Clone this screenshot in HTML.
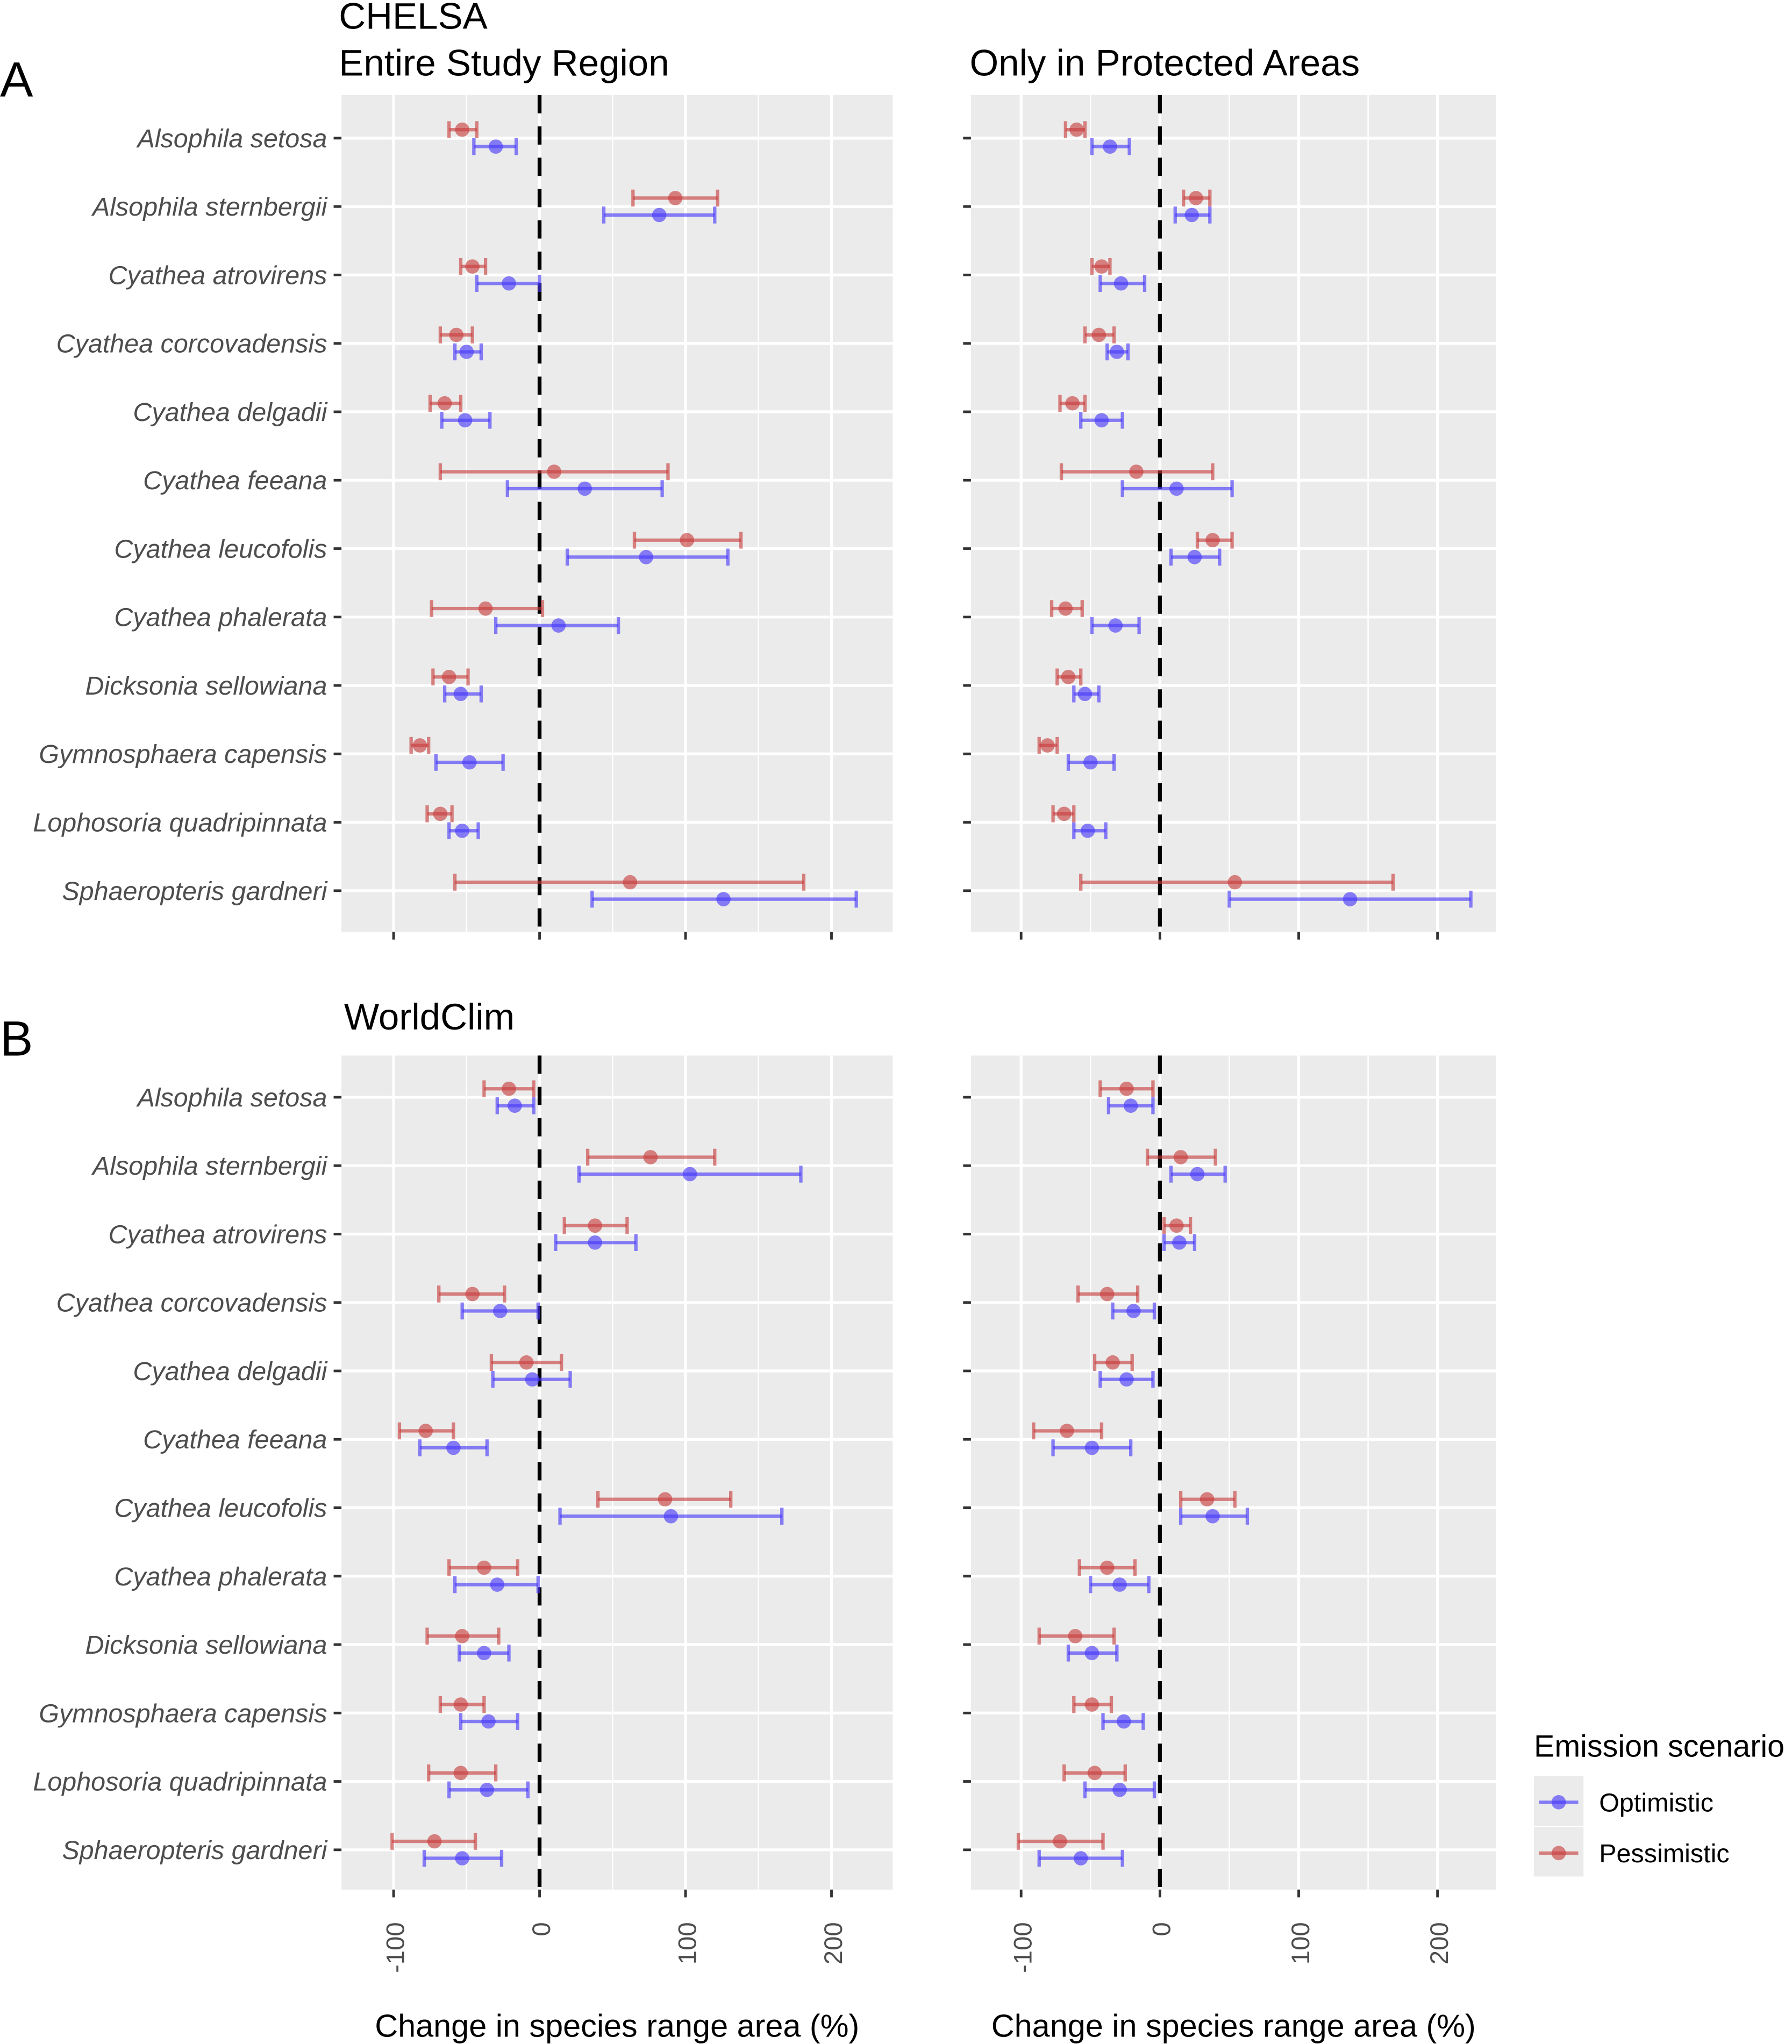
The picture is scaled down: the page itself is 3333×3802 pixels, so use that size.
<!DOCTYPE html>
<html><head><meta charset="utf-8">
<style>
html,body{margin:0;padding:0;background:#fff;}
svg{display:block;}
text{font-family:"Liberation Sans",sans-serif;}
</style></head>
<body>
<svg id="chart" xmlns="http://www.w3.org/2000/svg" width="3333" height="3802" viewBox="0 0 1375 1568.5"></svg>
<script>
const species = ["Alsophila setosa","Alsophila sternbergii","Cyathea atrovirens","Cyathea corcovadensis","Cyathea delgadii","Cyathea feeana","Cyathea leucofolis","Cyathea phalerata","Dicksonia sellowiana","Gymnosphaera capensis","Lophosoria quadripinnata","Sphaeropteris gardneri"];
const xTicks = [-100,0,100,200];
const xMinor = [-50,50,150];
// [center, low, high]
const chelsaAllPess = [[-53,-62,-43],[93,64,122],[-46,-54,-37],[-57,-68,-46],[-65,-75,-54],[10,-68,88],[101,65,138],[-37,-74,2],[-62,-73,-49],[-82,-88,-76],[-68,-77,-60],[62,-58,181]];
const chelsaAllOpt = [[-30,-45,-16],[82,44,120],[-21,-43,0],[-50,-58,-40],[-51,-67,-34],[31,-22,84],[73,19,129],[13,-30,54],[-54,-65,-40],[-48,-71,-25],[-53,-62,-42],[126,36,217]];
const chelsaPAPess = [[-60,-68,-54],[26,17,36],[-42,-49,-36],[-44,-54,-33],[-63,-72,-54],[-17,-71,38],[38,27,52],[-68,-78,-56],[-66,-74,-57],[-81,-87,-74],[-69,-77,-62],[54,-57,168]];
const chelsaPAOpt = [[-36,-49,-22],[23,11,36],[-28,-43,-11],[-31,-38,-23],[-42,-57,-27],[12,-27,52],[25,8,43],[-32,-49,-15],[-54,-62,-44],[-50,-66,-33],[-52,-62,-39],[137,50,224]];
const wcAllPess = [[-21,-38,-4],[76,33,120],[38,17,60],[-46,-69,-24],[-9,-33,15],[-78,-96,-59],[86,40,131],[-38,-62,-15],[-53,-77,-28],[-54,-68,-38],[-54,-76,-30],[-72,-101,-44]];
const wcAllOpt = [[-17,-29,-4],[103,27,179],[38,11,66],[-27,-53,-1],[-5,-32,21],[-59,-82,-36],[90,14,166],[-29,-58,-1],[-38,-55,-21],[-35,-54,-15],[-36,-62,-8],[-53,-79,-26]];
const wcPAPess = [[-24,-43,-5],[15,-9,40],[12,3,22],[-38,-59,-16],[-34,-47,-20],[-67,-91,-42],[34,15,54],[-38,-58,-18],[-61,-87,-33],[-49,-62,-35],[-47,-69,-25],[-72,-102,-41]];
const wcPAOpt = [[-21,-37,-5],[27,8,47],[14,3,25],[-19,-34,-4],[-24,-43,-5],[-49,-77,-21],[38,15,63],[-29,-50,-8],[-49,-66,-31],[-26,-41,-12],[-29,-54,-4],[-57,-87,-27]];

const NS="http://www.w3.org/2000/svg";
const svg=document.getElementById('chart');
function mk(tag,attrs,parent){const e=document.createElementNS(NS,tag);for(const k in attrs)e.setAttribute(k,attrs[k]);(parent||svg).appendChild(e);return e;}
function txt(s,attrs,parent){const e=mk('text',attrs,parent);e.textContent=s;return e;}

const BLUE="rgba(70,55,250,0.62)", RED="rgba(200,60,60,0.62)";
const panels=[
 {name:'chelsa-entire',x0:262,x1:685,y0:73,y1:715,zero:414,ppu:1.12,row0:106,pess:chelsaAllPess,opt:chelsaAllOpt,labels:true,xlab:false},
 {name:'chelsa-protected',x0:745,x1:1148,y0:73,y1:715,zero:890,ppu:1.065,row0:106,pess:chelsaPAPess,opt:chelsaPAOpt,labels:false,xlab:false},
 {name:'worldclim-entire',x0:262,x1:685,y0:810,y1:1450,zero:414,ppu:1.12,row0:842,pess:wcAllPess,opt:wcAllOpt,labels:true,xlab:true},
 {name:'worldclim-protected',x0:745,x1:1148,y0:810,y1:1450,zero:890,ppu:1.065,row0:842,pess:wcPAPess,opt:wcPAOpt,labels:false,xlab:true}
];
const ROWSTEP=52.5;
panels.forEach(p=>{
  const g=mk('g',{});
  
  
  const X=v=>p.zero+v*p.ppu;
  const Y=i=>p.row0+i*ROWSTEP;
  mk('rect',{x:p.x0,y:p.y0,width:p.x1-p.x0,height:p.y1-p.y0,fill:'#ebebeb'},g);
  xMinor.forEach(v=>{const l=mk('line',{x1:X(v),x2:X(v),y1:p.y0,y2:p.y1,stroke:'#fff','stroke-width':1},g);
    });
  xTicks.forEach(v=>{const l=mk('line',{x1:X(v),x2:X(v),y1:p.y0,y2:p.y1,stroke:'#fff','stroke-width':2.2},g);
    });
  species.forEach((s,i)=>{
    mk('line',{x1:p.x0,x2:p.x1,y1:Y(i),y2:Y(i),stroke:'#fff','stroke-width':2.2},g);
    mk('line',{x1:p.x0-6,x2:p.x0,y1:Y(i),y2:Y(i),stroke:'#333','stroke-width':2},g);
    if(p.labels){const t=txt(s,{x:p.x0-11,y:Y(i)+7,'text-anchor':'end','font-size':20,'font-style':'italic',fill:'#4d4d4d'},g);
      }
  });
  xTicks.forEach(v=>{
    mk('line',{x1:X(v),x2:X(v),y1:p.y1,y2:p.y1+6,stroke:'#333','stroke-width':2},g);
    if(p.xlab){
      const t=txt(String(v),{transform:`translate(${X(v)+8},${p.y1+25}) rotate(-90)`,'text-anchor':'end','font-size':19.5,fill:'#4d4d4d'},g);
      
    }
  });
  const z=mk('line',{x1:X(0),x2:X(0),y1:p.y0,y2:p.y1,stroke:'#000','stroke-width':3,'stroke-dasharray':'14,10'},g);
  
  function draw(arr,color,off,nm){
    arr.forEach((d,i)=>{
      const y=Y(i)+off;
      const e=mk('g',{},g);
      
      
      mk('line',{x1:X(d[1]),x2:X(d[2]),y1:y,y2:y,stroke:color,'stroke-width':2.6},e);
      mk('line',{x1:X(d[1]),x2:X(d[1]),y1:y-6.5,y2:y+6.5,stroke:color,'stroke-width':2.6},e);
      mk('line',{x1:X(d[2]),x2:X(d[2]),y1:y-6.5,y2:y+6.5,stroke:color,'stroke-width':2.6},e);
      const c=mk('circle',{cx:X(d[0]),cy:y,r:5.5,fill:color},g);
      
      
    });
  }
  draw(p.pess,RED,-6.5,'pessimistic');
  draw(p.opt,BLUE,6.5,'optimistic');
  if(p.xlab){const t=txt('Change in species range area (%)',{x:(p.x0+p.x1)/2,y:1563,'text-anchor':'middle','font-size':24.5,fill:'#000'},g);
    }
});
function label(s,x,y,size,nm){const t=txt(s,{x:x,y:y,'font-size':size,fill:'#000'});
  }
label('A',0,74,38,'panel-letter-a');
label('B',0,810,38,'panel-letter-b');
label('CHELSA',260,22,28.5,'chelsa-title');
label('Entire Study Region',260,58,28.5,'entire-region-title');
label('Only in Protected Areas',744,58,28.5,'protected-areas-title');
label('WorldClim',264,790,28.5,'worldclim-title');
// legend
const lg=mk('g',{});


txt('Emission scenario',{x:1177,y:1348,'font-size':23.7,fill:'#000'},lg);
mk('rect',{x:1177,y:1363,width:38,height:38,fill:'#ebebeb'},lg);
mk('rect',{x:1177,y:1402,width:38,height:38,fill:'#ebebeb'},lg);
const legendNames=['Optimistic','Pessimistic'];
const legendCols=[BLUE,RED];
legendNames.forEach((n,i)=>{
  const y=1383+i*39;
  const e=mk('g',{},lg);
  
  
  mk('line',{x1:1181,x2:1211,y1:y,y2:y,stroke:legendCols[i],'stroke-width':2.6},e);
  mk('circle',{cx:1196,cy:y,r:5.5,fill:legendCols[i]},e);
  txt(n,{x:1227,y:y+7,'font-size':20,fill:'#000'},e);
});
</script>
</body></html>
